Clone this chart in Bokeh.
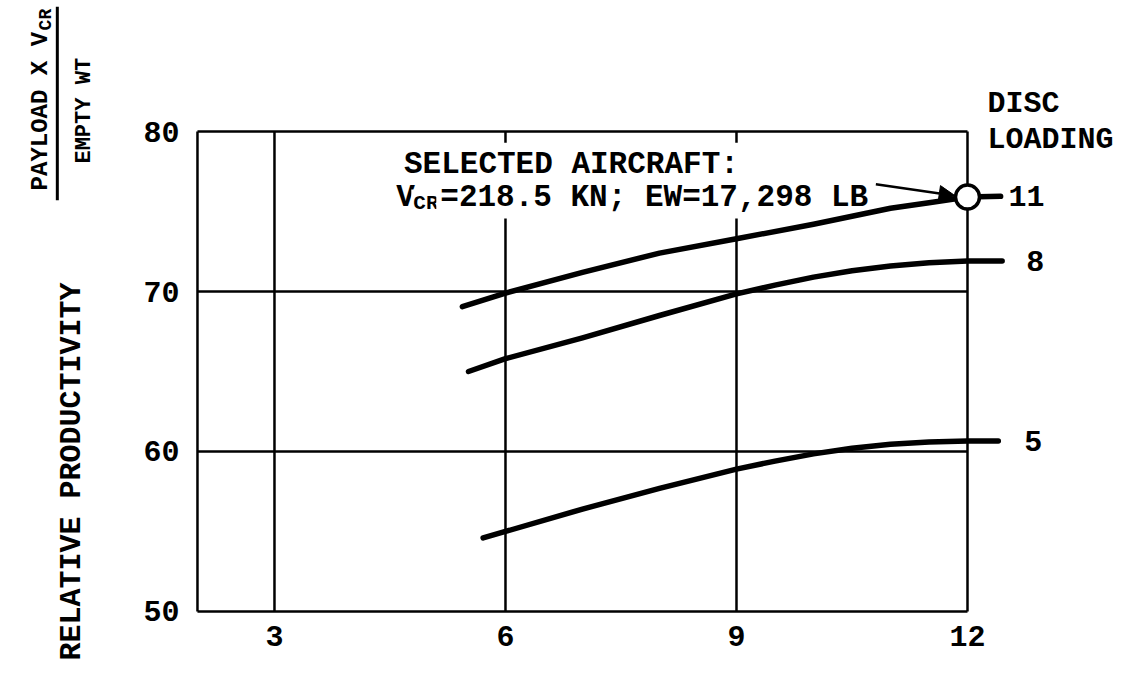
import math
from bokeh.plotting import figure
from bokeh.models import Label, Arrow, NormalHead, Range1d
from bokeh.core.properties import value
from bokeh.embed import file_html
from bokeh.resources import INLINE

# ---------------- data ----------------
x_ticks = [3, 6, 9, 12]
y_ticks = [50, 60, 70, 80]
x_start = 2            # left edge of the chart box

disc_loading = ["11", "8", "5"]

x_dl11 = [5.44, 6.0, 7.0, 8.0, 9.0, 10.0, 10.5, 11.0, 11.5, 12.0, 12.43]
y_dl11 = [69.05, 69.9, 71.2, 72.4, 73.3, 74.2, 74.7, 75.2, 75.55, 75.9, 75.95]

x_dl8 = [5.52, 6.0, 7.0, 8.0, 9.0, 9.5, 10.0, 10.5, 11.0, 11.5, 12.0, 12.45]
y_dl8 = [65.0, 65.8, 67.1, 68.5, 69.85, 70.4, 70.9, 71.3, 71.6, 71.8, 71.9, 71.9]

x_dl5 = [5.71, 6.0, 7.0, 8.0, 9.0, 9.5, 10.0, 10.5, 11.0, 11.5, 12.0, 12.4]
y_dl5 = [54.6, 55.0, 56.4, 57.7, 58.9, 59.4, 59.85, 60.2, 60.45, 60.6, 60.65, 60.65]

sel_x = [12.0]
sel_y = [75.9]

curves = [(x_dl11, y_dl11), (x_dl8, y_dl8), (x_dl5, y_dl5)]
label_offsets = [8, 24, 26]

FONT = "Liberation Mono"

# ---------------- figure (frame fills the whole canvas) ----------------
p = figure(width=1121, height=678, output_backend="svg", toolbar_location=None,
           x_range=Range1d(-0.558, 14.0), y_range=Range1d(45.81, 88.19),
           x_axis_location=None, y_axis_location=None,
           min_border=0)
p.outline_line_color = None
p.grid.visible = False
p.background_fill_color = "white"
p.border_fill_color = "white"

x_lo, x_hi = x_start, x_ticks[-1]
y_lo, y_hi = y_ticks[0], y_ticks[-1]

# box + grid lines
vx = [x_start] + x_ticks
p.segment(x0=vx, y0=[y_lo] * len(vx), x1=vx, y1=[y_hi] * len(vx),
          line_color="black", line_width=2.5)
p.segment(x0=[x_lo] * len(y_ticks), y0=y_ticks, x1=[x_hi] * len(y_ticks), y1=y_ticks,
          line_color="black", line_width=2.5)

# tick labels
p.text(x=x_ticks, y=[y_lo] * len(x_ticks), text=[str(t) for t in x_ticks],
       text_font=value(FONT), text_font_size="30px", text_font_style="bold",
       text_color="black", text_align="center", text_baseline="middle", y_offset=25)
p.text(x=[x_lo] * len(y_ticks), y=y_ticks, text=[str(t) for t in y_ticks],
       text_font=value(FONT), text_font_size="30px", text_font_style="bold",
       text_color="black", text_align="right", text_baseline="middle", x_offset=-18)

# annotation text with white background (hides grid lines)
txt_kw = dict(text_font=FONT, text_font_style="bold", text_color="black",
              background_fill_color="white", text_baseline="alphabetic")
p.add_layout(Label(x=4.63, y=77.95, text="SELECTED AIRCRAFT:", text_font_size="31px",
                   padding=4, **txt_kw))
p.add_layout(Label(x=4.53, y=75.9, text="V", text_font_size="31px", padding=4, **txt_kw))
p.add_layout(Label(x=4.53, y=75.9, x_offset=19, y_offset=-6, text="CR",
                   text_font_size="21px", padding=2, **txt_kw))
p.add_layout(Label(x=4.53, y=75.9, x_offset=44, text="=218.5 KN; EW=17,298 LB",
                   text_font_size="31px", padding=4, **txt_kw))

# curves
for (xs, ys) in curves:
    r = p.line(xs, ys, line_width=5.5, line_color="black", line_cap="round", line_join="round")
    r.level = "overlay"

# curve labels
for (xs, ys), lab, off in zip(curves, disc_loading, label_offsets):
    p.add_layout(Label(x=xs[-1], y=ys[-1], x_offset=off, text=lab, text_font=FONT,
                       text_font_size="30px", text_font_style="bold", text_color="black",
                       text_baseline="middle", text_align="left"))

# arrow to selected aircraft
arr = Arrow(end=NormalHead(size=16, fill_color="black", line_color="black", line_width=1),
            x_start=sel_x[0] - 1.19, y_start=sel_y[0] + 0.8,
            x_end=sel_x[0] - 0.16, y_end=sel_y[0] + 0.08,
            line_width=2.5, line_color="black", level="overlay")
p.add_layout(arr)

# selected point
c = p.scatter(sel_x, sel_y, size=24, marker="circle", fill_color="white",
              line_color="black", line_width=3.5)
c.level = "overlay"

# DISC LOADING header
for t, yy in (("DISC", 81.74), ("LOADING", 79.45)):
    p.add_layout(Label(x=12.26, y=yy, text=t, text_font=FONT, text_font_size="30px",
                       text_font_style="bold", text_color="black",
                       text_baseline="middle", text_align="left"))

# y axis titles
rot = math.pi / 2
p.add_layout(Label(x=0.377, y=58.75, text="RELATIVE PRODUCTIVITY", angle=rot,
                   text_font=FONT, text_font_size="30px", text_font_style="bold",
                   text_color="black", text_align="center", text_baseline="middle"))
p.add_layout(Label(x=-0.04, y=76.32, text="PAYLOAD X V", angle=rot,
                   text_font=FONT, text_font_size="24px", text_font_style="bold",
                   text_color="black", text_align="left", text_baseline="middle"))
p.add_layout(Label(x=-0.04, y=76.32, text="CR", angle=rot, x_offset=6, y_offset=160,
                   text_font=FONT, text_font_size="18px", text_font_style="bold",
                   text_color="black", text_align="left", text_baseline="middle"))
p.add_layout(Arrow(end=None, start=None, x_start=0.18, y_start=75.7, x_end=0.18, y_end=87.8,
                   line_width=3, line_color="black"))
p.add_layout(Label(x=0.53, y=81.3, text="EMPTY WT", angle=rot,
                   text_font=FONT, text_font_size="22px", text_font_style="bold",
                   text_color="black", text_align="center", text_baseline="middle"))

open("out.html", "w").write(file_html(p, INLINE))
